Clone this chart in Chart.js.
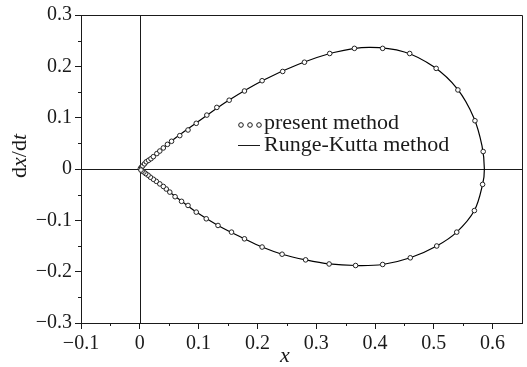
<!DOCTYPE html>
<html>
<head>
<meta charset="utf-8">
<script src="https://cdn.jsdelivr.net/npm/chart.js@4.4.0/dist/chart.umd.min.js"></script>
<style>
  html, body { margin: 0; padding: 0; background: #fff; }
  #wrap { width: 527px; height: 367px; }
</style>
</head>
<body>
<div id="wrap"><canvas id="phase" width="527" height="367"></canvas></div>
<script>
// === DADOS ===
// curva de Runge-Kutta (linha continua)
const rkX = [0, 0.012, 0.030, 0.060, 0.100, 0.150, 0.210, 0.270, 0.330, 0.390, 0.450, 0.500, 0.540, 0.568, 0.582, 0.586,
             0.583, 0.569, 0.539, 0.505, 0.460, 0.413, 0.367, 0.322, 0.282, 0.242, 0.208, 0.178, 0.133, 0.096, 0.060, 0.030, 0.012, 0];
const rkY = [0, 0.014, 0.032, 0.060, 0.093, 0.133, 0.173, 0.204, 0.227, 0.237, 0.228, 0.199, 0.156, 0.100, 0.045, 0,
             -0.030, -0.081, -0.123, -0.150, -0.173, -0.186, -0.188, -0.185, -0.177, -0.166, -0.152, -0.136, -0.110, -0.084, -0.053, -0.027, -0.011, 0];

// "present method" (marcadores)
const presX = [0.001, 0.003, 0.005, 0.008, 0.011, 0.015, 0.019, 0.023, 0.029, 0.034, 0.040, 0.047, 0.054, 0.068, 0.082, 0.096,
               0.114, 0.131, 0.152, 0.178, 0.208, 0.243, 0.280, 0.323, 0.365, 0.413, 0.459, 0.504, 0.541, 0.570, 0.584,
               0.583, 0.569, 0.539, 0.505, 0.460, 0.413, 0.367, 0.322, 0.282, 0.242, 0.208, 0.178, 0.156, 0.133, 0.113,
               0.096, 0.082, 0.071, 0.060, 0.051, 0.045, 0.040, 0.034, 0.028, 0.023, 0.018, 0.014, 0.010, 0.007, 0.004, 0.002];
const presY = [0.001, 0.004, 0.006, 0.010, 0.014, 0.017, 0.020, 0.024, 0.030, 0.035, 0.041, 0.048, 0.054, 0.065, 0.076, 0.089,
               0.105, 0.120, 0.134, 0.152, 0.172, 0.190, 0.208, 0.225, 0.235, 0.235, 0.225, 0.196, 0.154, 0.094, 0.034,
               -0.030, -0.081, -0.123, -0.150, -0.173, -0.186, -0.188, -0.185, -0.177, -0.166, -0.152, -0.136, -0.123, -0.110, -0.097,
               -0.084, -0.071, -0.063, -0.054, -0.045, -0.039, -0.034, -0.029, -0.024, -0.020, -0.016, -0.012, -0.009, -0.006, -0.004, -0.002];

const xTicks = [-0.1, 0, 0.1, 0.2, 0.3, 0.4, 0.5, 0.6];
const yTicks = [-0.3, -0.2, -0.1, 0, 0.1, 0.2, 0.3];
const legendLabels = ["present method", "Runge-Kutta method"];

const SERIF = "'Liberation Serif', 'DejaVu Serif', serif";
const INK = "#1a1a1a";

function fmt(v) {
    const r = Math.round(v * 10) / 10;
    return String(r).replace("-", "\u2212");
}

function toPts(xs, ys) {
    return xs.map((x, i) => ({ x: x, y: ys[i] }));
}

// === DESENHO EXTRA: moldura, eixos na origem, ticks menores, legenda, titulos ===
const extras = {
    id: "extras",
    beforeDatasetsDraw(chart) {
        const { ctx, chartArea: a, scales: { x, y } } = chart;
        ctx.save();
        ctx.strokeStyle = INK;
        ctx.lineWidth = 1;
        // linhas pela origem
        const x0 = Math.round(x.getPixelForValue(0)) + 0.5;
        const y0 = Math.round(y.getPixelForValue(0)) + 0.5;
        ctx.beginPath();
        ctx.moveTo(x0, a.top); ctx.lineTo(x0, a.bottom);
        ctx.moveTo(a.left, y0); ctx.lineTo(a.right, y0);
        ctx.stroke();
        ctx.restore();
    },
    afterDraw(chart) {
        const { ctx, chartArea: a, scales: { x, y } } = chart;
        ctx.save();
        ctx.strokeStyle = INK;
        ctx.lineWidth = 1;
        // moldura (topo e direita)
        ctx.beginPath();
        ctx.moveTo(Math.round(a.left), Math.round(a.top) + 0.5);
        ctx.lineTo(Math.round(a.right) + 0.5, Math.round(a.top) + 0.5);
        ctx.lineTo(Math.round(a.right) + 0.5, Math.round(a.bottom));
        ctx.stroke();

        // ticks menores
        ctx.beginPath();
        xTicks.forEach(t => {
            const px = Math.round(x.getPixelForValue(t + 0.05)) + 0.5;
            if (px < a.right - 2) { ctx.moveTo(px, a.bottom); ctx.lineTo(px, a.bottom + 3); }
        });
        yTicks.forEach(t => {
            if (t >= 0.3) return;
            const py = Math.round(y.getPixelForValue(t + 0.05)) + 0.5;
            ctx.moveTo(a.left, py); ctx.lineTo(a.left - 3, py);
        });
        ctx.stroke();

        // legenda
        ctx.fillStyle = INK;
        ctx.font = "22px " + SERIF;
        ctx.textBaseline = "middle";
        [241, 250, 259].forEach(cx => {
            ctx.beginPath();
            ctx.arc(cx, 125, 2.3, 0, Math.PI * 2);
            ctx.stroke();
        });
        ctx.fillText(legendLabels[0], 264, 123);
        ctx.beginPath();
        ctx.moveTo(238, 145.5); ctx.lineTo(260, 145.5);
        ctx.stroke();
        ctx.fillText(legendLabels[1], 264, 145);

        // titulo eixo x
        ctx.font = "italic 22px " + SERIF;
        ctx.textAlign = "center";
        ctx.fillText("x", 285, 356);

        // titulo eixo y: d x / d t (x e t em italico)
        ctx.translate(20, 156);
        ctx.rotate(-Math.PI / 2);
        const parts = [["d", ""], ["x", "italic "], ["/d", ""], ["t", "italic "]];
        let total = 0;
        parts.forEach(p => { ctx.font = p[1] + "22px " + SERIF; total += ctx.measureText(p[0]).width; });
        let cx = -total / 2;
        ctx.textAlign = "left";
        parts.forEach(p => {
            ctx.font = p[1] + "22px " + SERIF;
            ctx.fillText(p[0], cx, 0);
            cx += ctx.measureText(p[0]).width;
        });
        ctx.restore();
    }
};

const axisCommon = {
    type: "linear",
    border: { display: true, color: INK, width: 1 },
    grid: { drawOnChartArea: false, drawTicks: true, tickLength: 6, color: INK },
    ticks: {
        stepSize: 0.1,
        includeBounds: false,
        color: INK,
        padding: 3,
        font: { family: SERIF, size: 20 },
        callback: v => fmt(v)
    }
};

new Chart(document.getElementById("phase"), {
    type: "scatter",
    data: {
        datasets: [
            {
                label: legendLabels[0],
                data: toPts(presX, presY),
                showLine: false,
                pointStyle: "circle",
                pointRadius: 2.3,
                borderWidth: 1,
                borderColor: "#222",
                backgroundColor: "#fff"
            },
            {
                label: legendLabels[1],
                data: toPts(rkX, rkY),
                showLine: true,
                tension: 0.35,
                pointRadius: 0,
                borderWidth: 1.2,
                borderColor: "#000",
                backgroundColor: "#000"
            }
        ]
    },
    options: {
        responsive: false,
        animation: false,
        layout: { padding: { left: 0, top: 14, right: 5, bottom: 0 } },
        plugins: { legend: { display: false }, tooltip: { enabled: false } },
        scales: {
            x: Object.assign({}, axisCommon, {
                min: -0.1, max: 0.65,
                afterFit: s => { s.height = 44; }
            }),
            y: Object.assign({}, axisCommon, {
                min: -0.3, max: 0.3,
                afterFit: s => { s.width = 81; }
            })
        }
    },
    plugins: [extras]
});
</script>
</body>
</html>
